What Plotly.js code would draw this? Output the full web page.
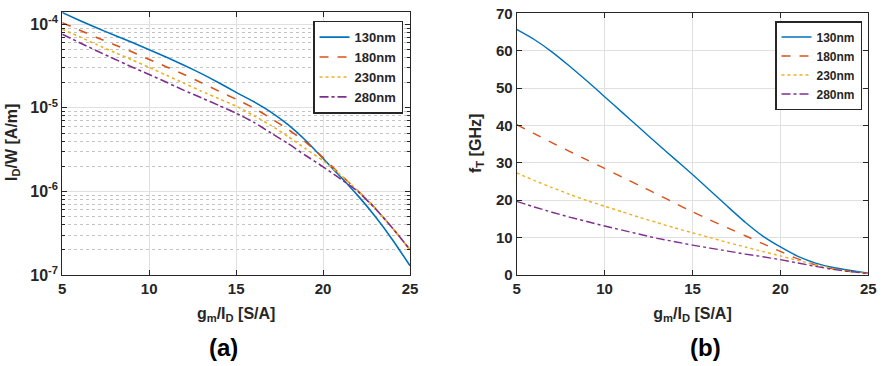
<!DOCTYPE html>
<html>
<head>
<meta charset="utf-8">
<script src="https://cdn.plot.ly/plotly-3.0.1.min.js"></script>
<style>
  html, body { margin: 0; padding: 0; background: #fff; }
  #chart { width: 882px; height: 366px; }
</style>
</head>
<body>
<div id="chart"></div>
<script>
const gmId = [5, 6, 7, 8, 9, 10, 11, 12, 13, 14, 15, 16, 17, 18, 19, 20, 21, 22, 23, 24, 25];
const seriesNames = ['130nm', '180nm', '230nm', '280nm'];

// (a) I_D/W [A/m]
const idw130 = [1.380e-4, 1.109e-4, 9.02e-5, 7.41e-5, 6.10e-5, 4.95e-5, 4.03e-5, 3.24e-5, 2.57e-5, 2.00e-5,
  1.53e-5, 1.19e-5, 8.91e-6, 6.24e-6, 4.07e-6, 2.48e-6, 1.50e-6, 8.91e-7, 5.01e-7, 2.63e-7, 1.29e-7];
const idw180 = [1.047e-4, 8.51e-5, 6.92e-5, 5.69e-5, 4.68e-5, 3.80e-5, 3.09e-5, 2.51e-5, 2.00e-5, 1.585e-5,
  1.27e-5, 1.00e-5, 7.50e-6, 5.50e-6, 3.89e-6, 2.54e-6, 1.585e-6, 1.02e-6, 6.31e-7, 3.63e-7, 2.00e-7];
const idw230 = [8.71e-5, 7.08e-5, 5.69e-5, 4.62e-5, 3.76e-5, 3.05e-5, 2.45e-5, 1.97e-5, 1.585e-5, 1.29e-5,
  1.047e-5, 8.13e-6, 6.17e-6, 4.52e-6, 3.24e-6, 2.34e-6, 1.585e-6, 1.02e-6, 6.31e-7, 3.63e-7, 2.00e-7];
const idw280 = [7.59e-5, 6.03e-5, 4.79e-5, 3.85e-5, 3.09e-5, 2.51e-5, 2.02e-5, 1.62e-5, 1.32e-5, 1.07e-5,
  8.61e-6, 6.76e-6, 5.01e-6, 3.72e-6, 2.69e-6, 1.97e-6, 1.41e-6, 1.00e-6, 6.24e-7, 3.63e-7, 2.00e-7];

// (b) f_T [GHz]
const ft130 = [65.7, 63.0, 59.7, 55.9, 51.9, 47.7, 43.5, 39.3, 35.1, 31.0,
  26.9, 22.6, 18.3, 14.1, 10.4, 7.5, 5.0, 3.2, 2.0, 1.2, 0.5];
const ft180 = [40.2, 37.8, 35.4, 33.1, 30.8, 28.5, 26.2, 23.9, 21.6, 19.2,
  16.9, 14.7, 12.6, 10.5, 8.4, 6.3, 4.3, 2.7, 1.6, 0.9, 0.5];
const ft230 = [27.3, 25.3, 23.4, 21.6, 19.9, 18.4, 16.9, 15.4, 14.0, 12.6,
  11.3, 10.0, 8.7, 7.5, 6.3, 5.1, 3.9, 2.7, 1.7, 0.9, 0.4];
const ft280 = [19.7, 18.2, 16.8, 15.5, 14.3, 13.1, 12.0, 10.9, 9.8, 8.9,
  8.0, 7.2, 6.4, 5.6, 4.9, 4.1, 3.2, 2.3, 1.5, 0.9, 0.4];

const logTickVals = [1e-7, 1e-6, 1e-5, 1e-4];
const logTickText = ['10<sup>-7</sup>', '10<sup>-6</sup>', '10<sup>-5</sup>', '10<sup>-4</sup>'];

const COLORS = ['#0072BD', '#D95319', '#EDB120', '#7E2F8E'];
const DASHES = ['solid', 'dash', 'dot', 'dashdot'];
const FONT = 'Liberation Sans, Arial, sans-serif';
const AX = '#262626';

const idwSeries = [idw130, idw180, idw230, idw280];
const ftSeries = [ft130, ft180, ft230, ft280];

const traces = [];
idwSeries.forEach((ys, i) => {
  traces.push({
    x: gmId, y: ys, name: seriesNames[i], type: 'scatter', mode: 'lines',
    line: { color: COLORS[i], dash: DASHES[i], width: 1.6, shape: 'spline', smoothing: 0.5 },
    xaxis: 'x', yaxis: 'y', legend: 'legend',
  });
});
ftSeries.forEach((ys, i) => {
  traces.push({
    x: gmId, y: ys, name: seriesNames[i], type: 'scatter', mode: 'lines',
    line: { color: COLORS[i], dash: DASHES[i], width: 1.4, shape: 'spline', smoothing: 0.5 },
    xaxis: 'x2', yaxis: 'y2', legend: 'legend2',
  });
});

const tickFont = { family: FONT, size: 15, color: AX, weight: 'bold' };
const titleFont = { family: FONT, size: 16, color: AX, weight: 'bold' };

const baseAxis = {
  showline: true, linecolor: AX, linewidth: 1, mirror: 'ticks',
  ticks: 'inside', ticklen: 5, tickcolor: AX, tickwidth: 1,
  showgrid: true, gridcolor: '#e0e0e0', gridwidth: 1,
  zeroline: false, tickfont: tickFont, automargin: false,
};

const xTicks = [5, 10, 15, 20, 25];

// y titles placed as rotated annotations for exact position
const yTitles = [
  { text: 'I<sub>D</sub>/W [A/m]', x: 12, y: 143 },
  { text: 'f<sub>T</sub> [GHz]', x: 476, y: 144 },
];
const panelLabels = [
  { text: '(a)', x: 223, y: 347 },
  { text: '(b)', x: 705, y: 347 },
];

const layout = {
  width: 882, height: 366,
  margin: { l: 0, r: 0, t: 0, b: 0 },
  paper_bgcolor: '#fff', plot_bgcolor: '#fff',
  showlegend: true,
  xaxis: Object.assign({}, baseAxis, {
    domain: [0.0706, 0.4649], range: [5, 25], tickvals: xTicks, anchor: 'y',
    title: { text: 'g<sub>m</sub>/I<sub>D</sub> [S/A]', font: titleFont, standoff: 11 },
  }),
  yaxis: Object.assign({}, baseAxis, {
    domain: [0.2486, 0.9672], type: 'log', range: [-7, -3.853], anchor: 'x',
    tickvals: logTickVals, ticktext: logTickText,
    tickfont: Object.assign({}, tickFont, { size: 16 }),
    minor: { dtick: 'D1', showgrid: true, griddash: 'dot', gridcolor: '#c4c4c4', gridwidth: 1,
      ticks: 'inside', ticklen: 3, tickcolor: AX },
  }),
  xaxis2: Object.assign({}, baseAxis, {
    domain: [0.5858, 0.9845], range: [5, 25], tickvals: xTicks, anchor: 'y2',
    title: { text: 'g<sub>m</sub>/I<sub>D</sub> [S/A]', font: titleFont, standoff: 11 },
  }),
  yaxis2: Object.assign({}, baseAxis, {
    domain: [0.2486, 0.9636], range: [0, 70], dtick: 10, anchor: 'x2',
  }),
  legend: {
    x: 0.3549, y: 0.9434, xanchor: 'left', yanchor: 'top',
    bgcolor: '#fff', bordercolor: AX, borderwidth: 1.5,
    font: { family: FONT, size: 13, color: AX, weight: 'bold' },
    tracegroupgap: 0, itemwidth: 30,
  },
  legend2: {
    x: 0.8787, y: 0.9426, xanchor: 'left', yanchor: 'top',
    bgcolor: '#fff', bordercolor: AX, borderwidth: 1.5,
    font: { family: FONT, size: 12, color: AX, weight: 'bold' },
    tracegroupgap: 0, itemwidth: 30,
  },
  annotations: [
    ...yTitles.map((a) => ({
      text: a.text, xref: 'paper', yref: 'paper',
      x: a.x / 882, y: 1 - a.y / 366, xanchor: 'center', yanchor: 'middle',
      textangle: -90, showarrow: false, font: titleFont,
    })),
    ...panelLabels.map((a) => ({
      text: a.text, xref: 'paper', yref: 'paper',
      x: a.x / 882, y: 1 - a.y / 366, xanchor: 'center', yanchor: 'middle',
      showarrow: false, font: { family: FONT, size: 24, color: '#000', weight: 'bold' },
    })),
  ],
};

Plotly.newPlot('chart', traces, layout, { displayModeBar: false, staticPlot: true });
</script>
</body>
</html>
